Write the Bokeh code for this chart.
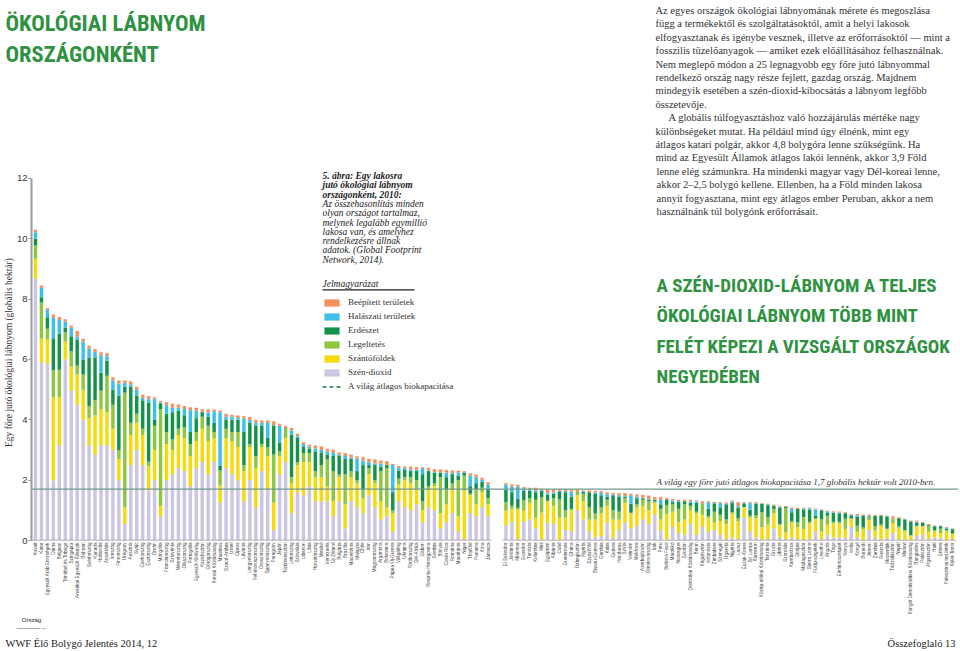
import math
from bokeh.plotting import figure
from bokeh.layouts import column
from bokeh.models import (ColumnDataSource, Range1d, FixedTicker, Span, Label,
                          Legend, LegendItem, BoxAnnotation)
from bokeh.embed import file_html
from bokeh.resources import INLINE
from bokeh.core.validation import silence
from bokeh.core.validation.warnings import MISSING_RENDERERS

silence(MISSING_RENDERERS, True)

# ---------------- data ----------------
left_names = ["Kuvait", "Katar", "Egyesült Arab Emírségek", "Dánia", "Belgium", "Trinidad és Tobago",
    "Szingapúr", "Amerikai Egyesült Államok", "Bahrein", "Svédország", "Kanada", "Hollandia",
    "Ausztrália", "Írország", "Finnország", "Uruguay", "Ausztria", "Svájc", "Csehország",
    "Észtország", "Omán", "Mongólia", "Franciaország", "Szlovénia", "Németország", "Olaszország",
    "Portugália", "Egyesült Királyság", "Kazahsztán", "Görögország", "Koreai Köztársaság",
    "Mauritius", "Szaúd-Arábia", "Izrael", "Ciprus", "Litvánia", "Lengyelország",
    "Fehéroroszország", "Oroszország", "Spanyolország", "Paraguay", "Japán", "Türkmenisztán",
    "Lettország", "Szlovákia", "Libanon", "Líbia", "Horvátország", "Mexikó", "Venezuela",
    "Új-Zéland", "Bulgária", "Brazília", "Macedónia", "Malajzia", "Chile", "Irán",
    "Magyarország", "Argentína", "Botswana", "Pápua Új-Guinea", "Világátlag", "Ukrajna",
    "Törökország", "Dél-Afrika", "Gabon", "Bosznia-Hercegovina", "Szerbia", "Bolívia",
    "Costa Rica", "Románia", "Mauritánia", "Niger", "Thaiföld", "Panama", "Kína", "Jamaica"]

left_co2 = [8.68, 5.91, 5.86, 1.99, 3.16, 6.00, 4.97, 4.50, 4.00, 3.16, 2.85, 3.16, 3.16, 3.00,
    2.00, 0.55, 2.50, 3.00, 2.50, 1.66, 2.00, 0.80, 2.00, 2.20, 2.40, 2.30, 1.80, 2.40, 2.60, 2.20,
    2.60, 1.27, 2.40, 2.20, 2.00, 1.30, 2.00, 1.10, 2.30, 1.70, 0.35, 2.20, 2.60, 0.90, 1.60, 1.50,
    1.80, 1.30, 1.30, 1.30, 0.80, 1.30, 0.40, 1.30, 1.10, 0.90, 1.50, 1.10, 0.70, 0.80, 0.30, 1.30,
    1.10, 1.00, 1.20, 0.60, 1.10, 1.00, 0.40, 0.60, 0.90, 0.30, 0.05, 0.90, 0.80, 1.10, 0.80]
left_crop = [0.66, 0.78, 0.82, 2.76, 1.60, 0.60, 0.80, 1.00, 1.00, 0.90, 1.30, 1.20, 1.10, 0.70,
    0.70, 0.55, 1.00, 0.90, 1.00, 0.80, 1.00, 0.35, 1.20, 0.80, 1.10, 1.10, 1.00, 0.90, 1.10, 1.10,
    0.80, 0.56, 1.00, 1.10, 1.10, 1.00, 1.10, 1.30, 0.80, 1.10, 0.90, 0.60, 0.80, 1.00, 0.90, 1.10,
    0.80, 0.80, 0.80, 0.50, 0.50, 0.80, 0.80, 0.80, 0.80, 0.50, 0.70, 0.80, 0.60, 0.30, 0.60, 0.55,
    0.90, 0.90, 0.50, 0.40, 0.60, 0.80, 0.50, 0.60, 0.80, 0.50, 1.60, 0.60, 0.40, 0.50, 0.40]
left_graze = [0.44, 1.20, 0.34, 0.89, 0.90, 0.30, 0.50, 0.30, 0.50, 0.40, 0.50, 0.60, 1.20, 0.80,
    0.30, 3.80, 0.40, 0.30, 0.20, 0.15, 0.80, 3.20, 0.40, 0.35, 0.20, 0.35, 0.40, 0.30, 0.40, 0.50,
    0.20, 0.49, 0.30, 0.30, 0.50, 0.20, 0.10, 0.40, 0.10, 0.30, 1.60, 0.15, 0.30, 0.20, 0.10, 0.30,
    0.30, 0.20, 0.40, 0.90, 1.00, 0.10, 1.00, 0.20, 0.10, 0.30, 0.20, 0.10, 1.00, 1.30, 0.10, 0.20,
    0.10, 0.20, 0.30, 0.30, 0.10, 0.10, 1.20, 0.50, 0.20, 1.20, 0.50, 0.05, 0.50, 0.15, 0.20]
left_forest = [0.22, 0.17, 0.38, 1.04, 1.20, 0.15, 0.50, 0.85, 0.50, 1.60, 1.40, 0.60, 0.50, 0.50,
    1.80, 0.20, 1.20, 0.60, 0.95, 1.95, 0.20, 0.20, 0.60, 0.90, 0.60, 0.40, 0.40, 0.45, 0.15, 0.30,
    0.30, 0.16, 0.30, 0.40, 0.40, 1.10, 0.70, 1.00, 0.60, 0.30, 0.95, 0.30, 0.02, 1.40, 0.80, 0.20,
    0.15, 0.65, 0.40, 0.15, 0.50, 0.60, 0.50, 0.40, 0.30, 0.80, 0.10, 0.50, 0.15, 0.10, 0.60, 0.27,
    0.25, 0.20, 0.30, 0.90, 0.50, 0.35, 0.15, 0.40, 0.30, 0.15, 0.10, 0.25, 0.20, 0.20, 0.30]
left_fish = [0.22, 0.31, 0.26, 0.72, 0.45, 0.20, 0.28, 0.10, 0.60, 0.30, 0.20, 0.58, 0.15, 0.30,
    0.40, 0.12, 0.08, 0.20, 0.08, 0.12, 0.70, 0.02, 0.28, 0.15, 0.11, 0.21, 0.72, 0.25, 0.02, 0.14,
    0.38, 1.77, 0.10, 0.10, 0.06, 0.44, 0.10, 0.10, 0.10, 0.50, 0.03, 0.55, 0.01, 0.15, 0.06, 0.10,
    0.06, 0.10, 0.10, 0.10, 0.10, 0.05, 0.10, 0.05, 0.42, 0.15, 0.10, 0.05, 0.10, 0.00, 0.90, 0.09,
    0.05, 0.05, 0.05, 0.20, 0.02, 0.02, 0.01, 0.15, 0.03, 0.10, 0.01, 0.35, 0.20, 0.06, 0.15]
left_built = [0.08, 0.08, 0.05, 0.09, 0.10, 0.08, 0.08, 0.19, 0.09, 0.10, 0.10, 0.10, 0.10, 0.11,
    0.10, 0.08, 0.10, 0.10, 0.10, 0.10, 0.05, 0.05, 0.10, 0.13, 0.10, 0.10, 0.10, 0.10, 0.08, 0.10,
    0.06, 0.06, 0.10, 0.07, 0.08, 0.08, 0.09, 0.10, 0.08, 0.08, 0.12, 0.07, 0.07, 0.08, 0.08, 0.06,
    0.07, 0.10, 0.12, 0.09, 0.11, 0.07, 0.10, 0.10, 0.07, 0.11, 0.11, 0.14, 0.10, 0.13, 0.04, 0.06,
    0.05, 0.10, 0.08, 0.03, 0.09, 0.10, 0.10, 0.09, 0.09, 0.07, 0.04, 0.08, 0.09, 0.07, 0.08]

right_names = ["El Salvador", "Jordánia", "Mianmar", "Ecuador", "Tunézia", "Kolumbia", "Mali",
    "Egyiptom", "Albánia", "Csád", "Guatemala", "Ghána", "Üzbegisztán", "Algéria", "Szváziföld",
    "Bissau-Guinea", "Gambia", "Kuba", "Guinea", "Honduras", "Szíria", "Vietnám", "Moldova",
    "Azerbajdzsán", "Örményország", "Irak", "Peru", "Burkina Faso", "Marokkó", "Nicaragua",
    "Szudán", "Dominikai Köztársaság", "Benin", "Kirgizisztán", "Indonézia", "Zimbabwe",
    "Szenegál", "Uganda", "Nigéria", "Laosz", "Észak-Korea", "Srí Lanka", "Kamerun",
    "Közép-afrikai Köztársaság", "Tanzánia", "Grúzia", "Libéria", "Szomália", "Kambodzsa",
    "Etiópia", "Madagaszkár", "Sierra Leone", "Fülöp-szigetek", "Lesotho", "Angola", "Togo",
    "Elefántcsontpart", "Kenya", "India", "Kongó", "Burundi", "Jemen", "Zambia", "Ruanda",
    "Mozambik", "Tádzsikisztán", "Nepál", "Malawi", "Kongói Demokratikus Köztársaság",
    "Banglades", "Pakisztán", "Afganisztán", "Haiti", "Eritrea", "Palesztinai területek",
    "Kelet-Timor"]

right_co2 = [0.50, 0.61, 0.05, 0.61, 0.70, 0.40, 0.03, 0.60, 0.55, 0.01, 0.35, 0.30, 1.00, 0.70,
    0.30, 0.10, 0.15, 0.60, 0.10, 0.35, 0.60, 0.40, 0.50, 0.70, 0.55, 0.85, 0.35, 0.03, 0.45, 0.25,
    0.20, 0.55, 0.20, 0.45, 0.30, 0.35, 0.20, 0.05, 0.10, 0.05, 0.75, 0.30, 0.10, 0.02, 0.05, 0.40,
    0.10, 0.05, 0.10, 0.05, 0.02, 0.05, 0.30, 0.05, 0.20, 0.10, 0.10, 0.10, 0.45, 0.10, 0.02, 0.35,
    0.10, 0.03, 0.08, 0.25, 0.05, 0.03, 0.01, 0.15, 0.20, 0.05, 0.10, 0.10, 0.00, 0.05]
right_crop = [0.49, 0.44, 0.98, 0.38, 0.55, 0.35, 0.90, 0.70, 0.60, 0.75, 0.40, 0.70, 0.50, 0.60,
    0.40, 0.60, 0.75, 0.55, 0.60, 0.35, 0.65, 0.50, 0.60, 0.45, 0.45, 0.40, 0.35, 0.85, 0.50, 0.35,
    0.50, 0.45, 0.70, 0.40, 0.45, 0.25, 0.45, 0.50, 0.79, 0.59, 0.35, 0.47, 0.64, 0.42, 0.47, 0.50,
    0.42, 0.22, 0.49, 0.40, 0.36, 0.52, 0.41, 0.25, 0.32, 0.47, 0.47, 0.27, 0.28, 0.19, 0.36, 0.33,
    0.23, 0.45, 0.29, 0.33, 0.37, 0.29, 0.15, 0.34, 0.26, 0.24, 0.20, 0.14, 0.30, 0.15]
right_graze = [0.28, 0.10, 0.05, 0.35, 0.15, 0.60, 0.50, 0.02, 0.25, 0.60, 0.25, 0.05, 0.08, 0.25,
    0.40, 0.20, 0.20, 0.20, 0.30, 0.25, 0.15, 0.02, 0.10, 0.20, 0.30, 0.05, 0.35, 0.30, 0.25, 0.45,
    0.50, 0.15, 0.05, 0.35, 0.05, 0.35, 0.20, 0.15, 0.05, 0.10, 0.01, 0.05, 0.10, 0.50, 0.25, 0.15,
    0.02, 0.80, 0.05, 0.15, 0.40, 0.05, 0.02, 0.40, 0.30, 0.05, 0.05, 0.35, 0.00, 0.20, 0.05, 0.10,
    0.15, 0.05, 0.02, 0.15, 0.05, 0.03, 0.02, 0.00, 0.02, 0.20, 0.05, 0.15, 0.05, 0.05]
right_forest = [0.41, 0.45, 0.30, 0.30, 0.25, 0.25, 0.22, 0.20, 0.15, 0.27, 0.60, 0.40, 0.02, 0.07,
    0.50, 0.65, 0.40, 0.10, 0.50, 0.50, 0.05, 0.30, 0.20, 0.05, 0.05, 0.05, 0.15, 0.18, 0.07, 0.23,
    0.10, 0.10, 0.30, 0.02, 0.25, 0.28, 0.25, 0.50, 0.30, 0.35, 0.12, 0.20, 0.38, 0.28, 0.40, 0.10,
    0.55, 0.05, 0.30, 0.45, 0.25, 0.40, 0.10, 0.30, 0.10, 0.30, 0.28, 0.18, 0.10, 0.30, 0.40, 0.02,
    0.34, 0.30, 0.40, 0.00, 0.27, 0.35, 0.45, 0.10, 0.10, 0.02, 0.12, 0.08, 0.05, 0.12]
right_fish = [0.17, 0.18, 0.42, 0.08, 0.06, 0.05, 0.02, 0.05, 0.05, 0.02, 0.04, 0.17, 0.00, 0.02,
    0.00, 0.03, 0.10, 0.08, 0.03, 0.05, 0.02, 0.28, 0.05, 0.02, 0.02, 0.01, 0.15, 0.01, 0.06, 0.03,
    0.00, 0.05, 0.05, 0.00, 0.22, 0.01, 0.14, 0.02, 0.05, 0.05, 0.02, 0.22, 0.02, 0.00, 0.03, 0.01,
    0.03, 0.00, 0.10, 0.00, 0.03, 0.05, 0.20, 0.00, 0.05, 0.02, 0.03, 0.01, 0.02, 0.05, 0.01, 0.03,
    0.01, 0.00, 0.02, 0.00, 0.00, 0.01, 0.01, 0.03, 0.01, 0.00, 0.01, 0.01, 0.02, 0.02]
right_built = [0.05, 0.08, 0.05, 0.05, 0.04, 0.10, 0.04, 0.13, 0.10, 0.05, 0.06, 0.06, 0.08, 0.02,
    0.06, 0.06, 0.04, 0.07, 0.05, 0.07, 0.10, 0.05, 0.08, 0.09, 0.12, 0.08, 0.09, 0.04, 0.05, 0.04,
    0.05, 0.05, 0.03, 0.08, 0.03, 0.04, 0.03, 0.04, 0.04, 0.13, 0.02, 0.03, 0.03, 0.02, 0.02, 0.03,
    0.03, 0.02, 0.05, 0.04, 0.03, 0.02, 0.03, 0.03, 0.02, 0.03, 0.03, 0.03, 0.03, 0.04, 0.02, 0.03,
    0.02, 0.02, 0.02, 0.07, 0.03, 0.01, 0.02, 0.04, 0.02, 0.04, 0.02, 0.02, 0.03, 0.02]

components = ["co2", "crop", "graze", "forest", "fish", "built"]
component_labels = ["Szén-dioxid", "Szántóföldek", "Legeltetés", "Erdészet",
                    "Halászati területek", "Beépített területek"]
component_colors = ["#cbc7e3", "#f7da0c", "#8dc63f", "#14924a", "#3ebfe9", "#f4915e"]

world_biocapacity = 1.7
y_ticks = [0, 2, 4, 6, 8, 10, 12]

# ---------------- layout constants ----------------
W = 958
HEAD_H = 164         # header strip (page y 0..164)
MAIN_BOTTOM = 636    # main figure ends here
FOOT_H = 14
FRAME_LEFT = 30
BASE_Y = 540         # page y of value 0
PX_Y = 30.17
PX_X = 5.961
FIRST_OFF = 4
GAP_SLOTS = 2

MAIN_H = MAIN_BOTTOM - HEAD_H
FRAME_H = BASE_Y - HEAD_H

left_x = list(range(len(left_names)))
right_x = [len(left_names) + GAP_SLOTS + j for j in range(len(right_names))]

src = ColumnDataSource(dict(
    x=left_x + right_x,
    name=left_names + right_names,
    co2=left_co2 + right_co2,
    crop=left_crop + right_crop,
    graze=left_graze + right_graze,
    forest=left_forest + right_forest,
    fish=left_fish + right_fish,
    built=left_built + right_built,
))

x_start = -FIRST_OFF / PX_X
x_end = x_start + (W - FRAME_LEFT) / PX_X

p = figure(width=W, height=MAIN_H, output_backend="svg", toolbar_location=None, title=None,
           x_range=Range1d(x_start, x_end), y_range=Range1d(0, FRAME_H / PX_Y),
           min_border_left=FRAME_LEFT, min_border_right=0, min_border_top=0,
           min_border_bottom=MAIN_BOTTOM - BASE_Y)
p.outline_line_color = None
p.xgrid.visible = False
p.ygrid.visible = False

rs = p.vbar_stack(components, x="x", width=0.58, color=component_colors,
                  line_color=None, source=src)

# baselines of the two panels
p.segment(x0=[left_x[0] - 0.6, right_x[0] - 0.6], x1=[left_x[-1] + 0.6, right_x[-1] + 0.6],
          y0=[0, 0], y1=[0, 0], line_color="#9a9a9a", line_width=1.5)

p.add_layout(Span(location=world_biocapacity, dimension="width",
                  line_color="#6f9a8c", line_width=1.3))

# y axis
ya = p.yaxis[0]
ya.ticker = FixedTicker(ticks=y_ticks)
ya.bounds = (0, 12)
ya.axis_line_color = "#9a9a9a"
ya.axis_line_width = 2
ya.major_tick_line_color = "#9a9a9a"
ya.major_tick_out = 3
ya.major_tick_in = 0
ya.minor_tick_out = 0
ya.minor_tick_line_color = None
ya.major_label_standoff = 1
ya.major_label_text_font = "Liberation Sans"
ya.major_label_text_font_size = "9.5px"
ya.major_label_text_color = "#333333"
ya.axis_label = "Egy főre jutó ökológiai lábnyom (globális hektár)"
ya.axis_label_standoff = 0
ya.axis_label_text_font = "Liberation Serif"
ya.axis_label_text_font_size = "9.5px"
ya.axis_label_text_font_style = "normal"
ya.axis_label_text_color = "#333333"

# x axis
xa = p.xaxis[0]
xa.ticker = FixedTicker(ticks=left_x + right_x)
xa.major_label_overrides = {xv: nm for xv, nm in zip(left_x + right_x, left_names + right_names)}
xa.major_label_orientation = math.pi / 2
xa.axis_line_color = None
xa.major_tick_line_color = None
xa.minor_tick_line_color = None
xa.major_tick_out = 0
xa.major_tick_in = 0
xa.minor_tick_out = 0
xa.major_label_standoff = 2
xa.major_label_text_font = "Liberation Sans"
xa.major_label_text_font_size = "4.7px"
xa.major_label_text_color = "#444444"
xa.axis_label = "Ország\n————→"
xa.axis_label_standoff = 0
xa.axis_label_text_font = "Liberation Sans"
xa.axis_label_text_font_size = "6px"
xa.axis_label_text_font_style = "normal"
xa.axis_label_text_color = "#222222"
try:
    xa.axis_label_align = "start"
except (AttributeError, ValueError):
    pass


def blank(h):
    f = figure(width=W, height=h, output_backend="svg", toolbar_location=None, title=None,
               x_range=Range1d(0, 1), y_range=Range1d(0, 1), x_axis_type=None,
               y_axis_type=None, min_border=0, min_border_left=0, min_border_right=0,
               min_border_top=0, min_border_bottom=0)
    f.outline_line_color = None
    return f


head = blank(HEAD_H)
foot = blank(FOOT_H)

for fig in (head, p, foot):
    try:
        fig.frame_align = False
    except (AttributeError, ValueError):
        pass


def lab(text, px, py, size, font="Liberation Serif", style="normal", color="#333333",
        align="left", baseline="middle", angle=0):
    # pick the strip that contains the text; coordinates are page pixels
    if py < HEAD_H:
        target, sx, sy = head, px, HEAD_H - py
    elif py > MAIN_BOTTOM:
        target, sx, sy = foot, px, MAIN_BOTTOM + FOOT_H - py
    else:
        target, sx, sy = p, px - FRAME_LEFT, BASE_Y - py
    target.add_layout(Label(x=sx, y=sy, x_units="screen", y_units="screen", text=text,
                            text_font=font, text_font_size=size, text_font_style=style,
                            text_color=color, text_align=align, text_baseline=baseline,
                            angle=angle))


GREEN = "#2f9142"
COND = "Roboto Condensed, Liberation Sans Narrow, Roboto"
title_lines = ["ÖKOLÓGIAI LÁBNYOM", "ORSZÁGONKÉNT"]
for i, t in enumerate(title_lines):
    lab(t, 5, 22 + 31 * i, "22.5px", font=COND, style="bold", color=GREEN)

headline = ["A SZÉN-DIOXID-LÁBNYOM A TELJES", "ÖKOLÓGIAI LÁBNYOM TÖBB MINT",
            "FELÉT KÉPEZI A VIZSGÁLT ORSZÁGOK", "NEGYEDÉBEN"]
for i, t in enumerate(headline):
    lab(t, 655, 285 + 30.3 * i, "19px", font=COND, style="bold", color=GREEN)

paragraph = [
    "Az egyes országok ökológiai lábnyomának mérete és megoszlása",
    "függ a termékektől és szolgáltatásoktól, amit a helyi lakosok",
    "elfogyasztanak és igénybe vesznek, illetve az erőforrásoktól — mint a",
    "fosszilis tüzelőanyagok — amiket ezek előállításához felhasználnak.",
    "Nem meglepő módon a 25 legnagyobb egy főre jutó lábnyommal",
    "rendelkező ország nagy része fejlett, gazdag ország. Majdnem",
    "mindegyik esetében a szén-dioxid-kibocsátás a lábnyom legfőbb",
    "összetevője.",
    "A globális túlfogyasztáshoz való hozzájárulás mértéke nagy",
    "különbségeket mutat. Ha például mind úgy élnénk, mint egy",
    "átlagos katari polgár, akkor 4,8 bolygóra lenne szükségünk. Ha",
    "mind az Egyesült Államok átlagos lakói lennénk, akkor 3,9 Föld",
    "lenne elég számunkra. Ha mindenki magyar vagy Dél-koreai lenne,",
    "akkor 2–2,5 bolygó kellene. Ellenben, ha a Föld minden lakosa",
    "annyit fogyasztana, mint egy átlagos ember Peruban, akkor a nem",
    "használnánk túl bolygónk erőforrásait.",
]
for i, t in enumerate(paragraph):
    lab(t, 668 if i == 8 else 655, 10 + 13.4 * i, "10.5px")

lab("A világ egy főre jutó átlagos biokapacitása 1,7 globális hektár volt 2010-ben.",
    655, 481, "9px", style="italic")

caption = [
    ("5. ábra: Egy lakosra", "bold italic"),
    ("jutó ökológiai lábnyom", "bold italic"),
    ("országonként, 2010:", "bold italic"),
    ("Az összehasonlítás minden", "italic"),
    ("olyan országot tartalmaz,", "italic"),
    ("melynek legalább egymillió", "italic"),
    ("lakosa van, és amelyhez", "italic"),
    ("rendelkezésre állnak", "italic"),
    ("adatok. (Global Footprint", "italic"),
    ("Network, 2014).", "italic"),
]
for i, (t, st) in enumerate(caption):
    lab(t, 321, 175.5 + 9.3 * i, "9.5px", style=st, color="#222222")

lab("Jelmagyarázat", 321, 283, "9.5px", style="italic", color="#222222")
p.add_layout(BoxAnnotation(left=321 - FRAME_LEFT, right=413 - FRAME_LEFT,
                           top=BASE_Y - 288.7, bottom=BASE_Y - 290,
                           left_units="screen", right_units="screen", top_units="screen",
                           bottom_units="screen", fill_color="#222222", fill_alpha=1,
                           line_color=None))

lab("WWF Élő Bolygó Jelentés 2014, 12", 5, 643, "10.5px", color="#222222")
lab("Összefoglaló 13", 955, 643, "10.5px", align="right", color="#222222")

# ---------------- legend ----------------
nan = float("nan")
dash_r = p.line(x=[nan, nan], y=[world_biocapacity, world_biocapacity], line_dash="4 3",
                line_color="#1d7a4f", line_width=1.5)
items = [LegendItem(label=component_labels[k], renderers=[rs[k]]) for k in range(5, -1, -1)]
items.append(LegendItem(label="A világ átlagos biokapacitása", renderers=[dash_r]))
legend = Legend(items=items, location=(321 - FRAME_LEFT, BASE_Y - 391), glyph_width=19,
                glyph_height=9, label_height=9, spacing=4, padding=0, margin=0,
                label_standoff=7, border_line_color=None, background_fill_alpha=0,
                label_text_font="Liberation Serif", label_text_font_size="9px",
                label_text_color="#333333")
p.add_layout(legend)

layout = column(head, p, foot, spacing=0)
open("out.html", "w").write(file_html(layout, INLINE))
